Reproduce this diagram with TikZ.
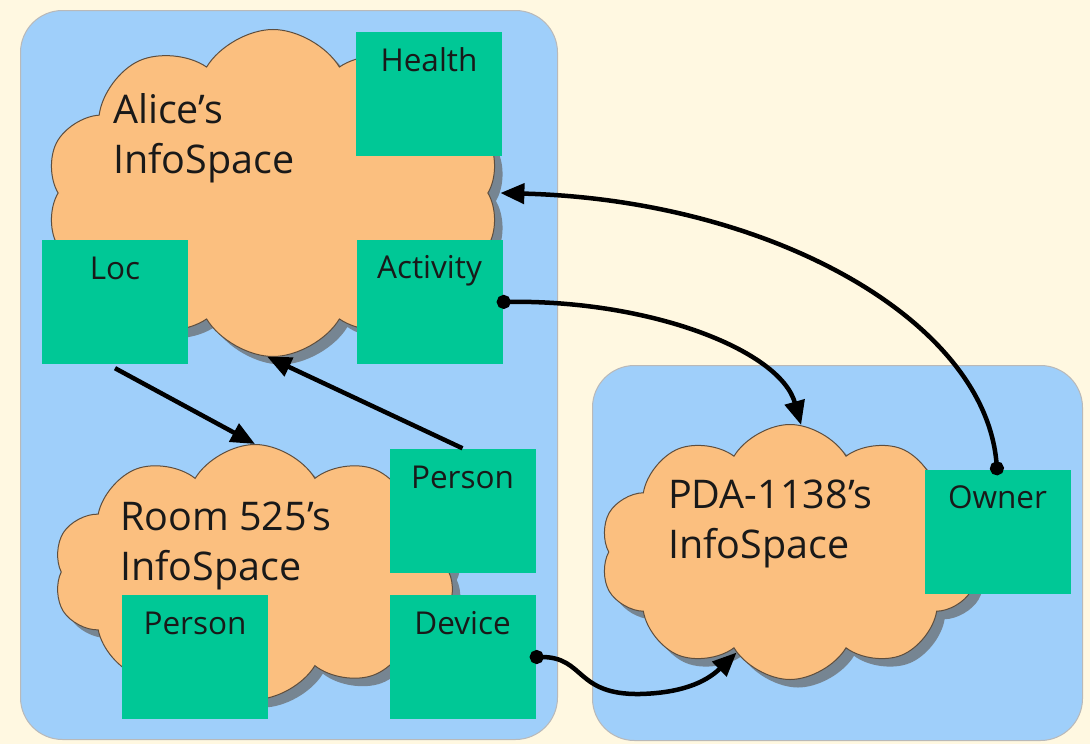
\documentclass[tikz,border=0pt]{standalone}
\usepackage{fontspec}
\setmainfont{Open Sans}
\usetikzlibrary{shapes.symbols,shadows,arrows.meta}
\definecolor{cream}{HTML}{FFF8E1}
\definecolor{skyb}{HTML}{9FCFFA}
\definecolor{grn}{HTML}{00C896}
\definecolor{peach}{HTML}{FBBF7F}
\definecolor{cloudline}{HTML}{5E4E3E}
\begin{document}
\begin{tikzpicture}[x=1pt,y=-1pt,
  panel/.style={draw=gray!55, fill=skyb, rounded corners=42pt, line width=1pt, anchor=north west, inner sep=0},
  cloudn/.style={cloud, cloud puffs=10, cloud puff arc=118, cloud ignores aspect, fill=peach, draw=cloudline, line width=1pt, inner sep=0,
     drop shadow={shadow xshift=8pt, shadow yshift=-8pt, fill=black!60, opacity=.7}},
  gbox/.style={fill=grn, minimum width=146pt, minimum height=124pt, inner sep=0},
  glabel/.style={anchor=base, font=\fontsize{31.5}{36}\selectfont, text=black!90, inner sep=0},
  title/.style={anchor=base west, align=left, font=\fontsize{39.5}{50}\selectfont, text=black!90, inner sep=0},
  link/.style={line width=4.5pt, -{Triangle[length=24pt,width=20pt]}},
  dotlink/.style={line width=4.5pt, {Circle[length=14pt]}-{Triangle[length=24pt,width=20pt]}}
]
\useasboundingbox (0,0) rectangle (1090,744);
\fill[cream] (0,0) rectangle (1090,744);

% panels
\node[panel, minimum width=537pt, minimum height=729pt] (leftpanel) at (20,10) {};
\node[panel, minimum width=490pt, minimum height=375pt] (rightpanel) at (592,365) {};

% clouds
\node[cloudn, minimum width=455pt, minimum height=327pt] (alice) at (273,193) {};
\node[cloudn, minimum width=403pt, minimum height=255pt] (room) at (255,572) {};
\node[cloudn, minimum width=380pt, minimum height=255pt] (pda) at (790,552) {};

% titles (anchor at baseline of the last line)
\node[title] (alicet) at (113,173) {Alice’s\\InfoSpace};
\node[title] (roomt) at (120,580) {Room 525’s\\InfoSpace};
\node[title] (pdat) at (668,558) {PDA-1138’s\\InfoSpace};

% green boxes
\node[gbox] (health) at (429,93.5) {};
\node[gbox] (loc) at (115,302) {};
\node[gbox] (activity) at (429.5,302) {};
\node[gbox] (person1) at (462.5,510.5) {};
\node[gbox] (person2) at (195,657) {};
\node[gbox] (device) at (462.5,657) {};
\node[gbox] (owner) at (997.5,531.5) {};

\node[glabel] (healthl) at ([yshift=-40pt]health.north) {Health};
\node[glabel] (locl) at ([yshift=-40pt]loc.north) {Loc};
\node[glabel] (activityl) at ([yshift=-39pt]activity.north) {Activity};
\node[glabel] (person1l) at ([yshift=-40pt]person1.north) {Person};
\node[glabel] (person2l) at ([yshift=-40pt]person2.north) {Person};
\node[glabel] (devicel) at ([yshift=-40pt]device.north) {Device};
\node[glabel] (ownerl) at ([yshift=-39pt]owner.north) {Owner};

% connectors
\draw[link] ([yshift=-4pt]loc.south) -- (room.90);
\draw[link] (person1.north) -- (alice.268);
\draw[dotlink] ([yshift=-6pt]owner.north) .. controls (985,320) and (770,200) .. ([xshift=12pt]alice.east);
\draw[dotlink] ([xshift=-6pt]activity.east) .. controls (650,300) and (780,350) .. (pda.85);
\draw[dotlink] ([xshift=-6pt]device.east) .. controls (585,657) and (575,695) .. (640,694) .. controls (680,693) and (705,683) .. (pda.242);
\end{tikzpicture}
\end{document}
